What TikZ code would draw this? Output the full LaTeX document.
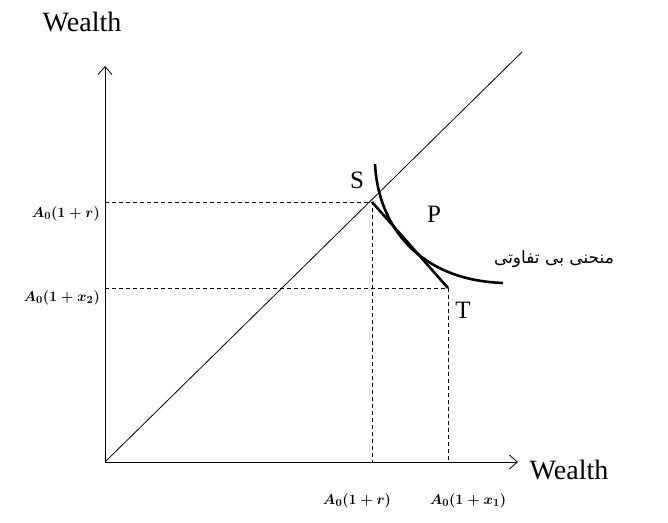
\documentclass[tikz,border=0pt]{standalone}
\usepackage{fontspec}
\usepackage{amsmath}
\setmainfont{Liberation Serif}
\newfontfamily\arabicfont[Script=Arabic]{DejaVu Sans}
\TeXXeTstate=1
\usetikzlibrary{arrows.meta}
\begin{document}
\begin{tikzpicture}[x=1pt,y=-1pt,
  axis/.style={line width=0.8pt,-{Straight Barb[length=8pt,width=14pt,line width=0.8pt]}},
  guide/.style={dashed,line width=0.7pt,dash pattern=on 4pt off 3pt},
  thick line/.style={line width=2.6pt},
  lbl/.style={font=\fontsize{25}{30}\selectfont,inner sep=0pt},
  wlbl/.style={font=\fontsize{28}{33}\selectfont,inner sep=0pt},
  mlbl/.style={font=\fontsize{15}{18}\selectfont\bfseries,inner sep=0pt}]
\useasboundingbox (0,0) rectangle (668,522);
\coordinate (O) at (105,462);
\coordinate (Ytop) at (105,66);
\coordinate (Xend) at (518,462);
\coordinate (Dend) at (522,52);
\coordinate (S) at (372,202);
\coordinate (T) at (448,288);
\coordinate (SL) at (105,202);
\coordinate (TL) at (105,288);
\coordinate (SB) at (372,462);
\coordinate (TB) at (448,462);
\draw[axis] (O) -- (Ytop);
\draw[axis] (O) -- (Xend);
\draw[line width=0.8pt] (O) -- (Dend);
\draw[guide] (SL) -- (S) -- (SB);
\draw[guide] (TL) -- (T) -- (TB);
\draw[thick line] (S) -- (T);
\draw[thick line] (375,164) .. controls (378,225) and (418,280) .. (503,283);
\node[wlbl] (yl) at (82,22) {Wealth};
\node[wlbl] (xl) at (569,470) {Wealth};
\node[lbl] (s) at (357,180) {S};
\node[lbl] (p) at (434,214) {P};
\node[lbl] (t) at (463,310) {T};
\node[inner sep=0pt,font=\fontsize{17}{20}\selectfont\arabicfont] (ic) at (554,259) {\beginR منحنی بی تفاوتی\endR};
\node[mlbl,anchor=east] (a1) at (100,214) {$\boldsymbol{A_{0}(1+r)}$};
\node[mlbl,anchor=east] (a2) at (100,298) {$\boldsymbol{A_{0}(1+x_{2})}$};
\node[mlbl] (a3) at (357,501) {$\boldsymbol{A_{0}(1+r)}$};
\node[mlbl] (a4) at (468,501) {$\boldsymbol{A_{0}(1+x_{1})}$};
\end{tikzpicture}
\end{document}
